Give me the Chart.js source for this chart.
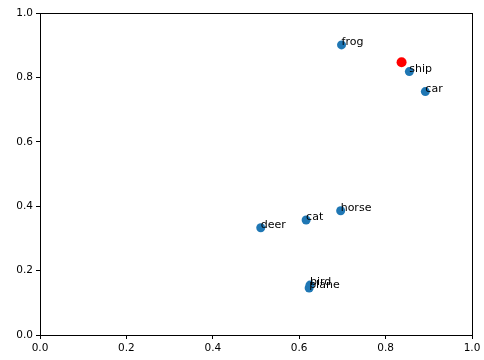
<!DOCTYPE html>
<html><head><meta charset="utf-8">
<script src="https://cdn.jsdelivr.net/npm/chart.js@4/dist/chart.umd.min.js"></script>
<style>html,body{margin:0;padding:0;background:#fff}#wrap{width:484px;height:360px}</style>
</head><body><div id="wrap"><canvas id="c" width="484" height="360"></canvas></div>
<script>
const labels = ["frog","ship","car","horse","cat","deer","bird","plane"];
const xs = [0.698,0.855,0.892,0.696,0.616,0.511,0.625,0.623];
const ys = [0.901,0.818,0.756,0.386,0.357,0.333,0.155,0.146];
const redX = [0.837];
const redY = [0.847];
const ticks = [0,0.2,0.4,0.6,0.8,1.0];
const FONT = "DejaVu Sans";

const frame = {
  id:'frame',
  afterDatasetsDraw(chart){
    const {ctx, chartArea:a} = chart;
    const meta = chart.getDatasetMeta(0);
    ctx.save();
    ctx.font = "11px '"+FONT+"'";
    ctx.fillStyle = '#000';
    ctx.textAlign='left'; ctx.textBaseline='alphabetic';
    meta.data.forEach((p,i)=>{ ctx.fillText(labels[i], p.x, p.y); });
    ctx.strokeStyle='#000'; ctx.lineWidth=1;
    ctx.strokeRect(Math.round(a.left)+0.5, Math.round(a.top)+0.5, Math.round(a.right-a.left), Math.round(a.bottom-a.top));
    ctx.restore();
  }
};

new Chart(document.getElementById('c'), {
  type:'scatter',
  data:{datasets:[
    {data: xs.map((x,i)=>({x, y:ys[i]})), backgroundColor:'#1f77b4', borderWidth:0, pointRadius:4.5, pointHoverRadius:4.5},
    {data: redX.map((x,i)=>({x, y:redY[i]})), backgroundColor:'#ff0000', borderWidth:0, pointRadius:5, pointHoverRadius:5}
  ]},
  options:{
    responsive:false, animation:false, devicePixelRatio:1,
    layout:{padding:{top:13,right:12,left:0,bottom:0}},
    plugins:{legend:{display:false},tooltip:{enabled:false}},
    scales:{
      x:{type:'linear',min:0,max:1,
        afterBuildTicks(s){s.ticks=ticks.map(v=>({value:v}));},
        afterFit(s){s.height=25;},
        grid:{drawOnChartArea:false,tickLength:4,tickColor:'#000',tickWidth:1},
        border:{display:true,color:'#000',width:1},
        ticks:{color:'#000',font:{family:FONT,size:10.5},padding:3,maxRotation:0,callback:v=>v.toFixed(1)}},
      y:{type:'linear',min:0,max:1,
        afterBuildTicks(s){s.ticks=ticks.map(v=>({value:v}));},
        afterFit(s){s.width=40;},
        grid:{drawOnChartArea:false,tickLength:4,tickColor:'#000',tickWidth:1},
        border:{display:true,color:'#000',width:1},
        ticks:{color:'#000',font:{family:FONT,size:10.5},padding:3,callback:v=>v.toFixed(1)}}
    }
  },
  plugins:[frame]
});
</script></body></html>
